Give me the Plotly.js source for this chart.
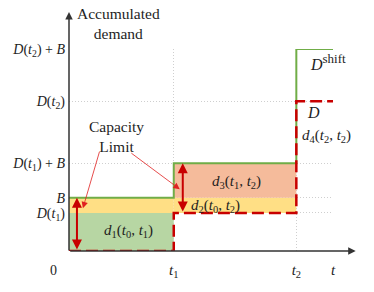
<!DOCTYPE html>
<html>
<head>
<meta charset="utf-8">
<script src="https://cdn.plot.ly/plotly-3.0.1.min.js"></script>
<style>html,body{margin:0;padding:0;background:#fff;}#chart{width:374px;height:292px;}</style>
</head>
<body>
<div id="chart"></div>
<script>
// ---- data ----
const tPoints = [0, 1, 2.17, 2.52];          // t0, t1, t2, t (end of horizon)
const demandLevels = [0, 0.76, 2.99];         // D on [t0,t1), [t1,t2), [t2,t]
const shiftLevels = [1.06, 1.75, 4.03];       // D^shift on the same intervals
const capacityB = 1.06;                        // B
const yTickVals = [0.76, 1.06, 1.75, 2.99, 4.03];
const yTickText = [
  '<i>D</i>(<i>t</i><sub>1</sub>)',
  '<i>B</i>',
  '<i>D</i>(<i>t</i><sub>1</sub>) + <i>B</i>',
  '<i>D</i>(<i>t</i><sub>2</sub>)',
  '<i>D</i>(<i>t</i><sub>2</sub>) + <i>B</i>'
];
const xTickVals = [1, 2.17, 2.52];
const xTickText = ['<i>t</i><sub>1</sub>', '<i>t</i><sub>2</sub>', '<i>t</i>'];
const regionLabels = [
  '<i>d</i><sub>1</sub>(<i>t</i><sub>0</sub>, <i>t</i><sub>1</sub>)',
  '<i>d</i><sub>2</sub>(<i>t</i><sub>0</sub>, <i>t</i><sub>2</sub>)',
  '<i>d</i><sub>3</sub>(<i>t</i><sub>1</sub>, <i>t</i><sub>2</sub>)',
  '<i>d</i><sub>4</sub>(<i>t</i><sub>2</sub>, <i>t</i><sub>2</sub>)'
];

const SERIF = 'Liberation Serif, DejaVu Serif, serif';
const RED = '#c80000';
const GREEN = '#70ad47';
const INK = '#1e1e1e';

function rect(x0, x1, y0, y1, color) {
  return {type:'scatter', mode:'none', x:[x0, x1, x1, x0, x0], y:[y0, y0, y1, y1, y0],
    fill:'toself', fillcolor:color, hoverinfo:'skip', showlegend:false};
}
const t0 = tPoints[0], t1 = tPoints[1], t2 = tPoints[2], tE = tPoints[3];

const traces = [
  rect(t0, t1, demandLevels[0], demandLevels[1], '#b7d6a3'),
  rect(t0, t1, demandLevels[1], capacityB, '#ffdf85'),
  rect(t1, t2, demandLevels[1], capacityB, '#ffdf85'),
  rect(t1, t2, capacityB, shiftLevels[1], '#f5bb9b'),
  {type:'scatter', mode:'lines', x:tPoints, y:[shiftLevels[0], shiftLevels[1], shiftLevels[2], shiftLevels[2]],
   line:{shape:'hv', color:GREEN, width:2}, showlegend:false, hoverinfo:'skip'},
  {type:'scatter', mode:'lines', x:tPoints, y:[demandLevels[0], demandLevels[1], demandLevels[2], demandLevels[2]],
   line:{shape:'hv', color:RED, width:2.5, dash:'12px,5px'}, showlegend:false, hoverinfo:'skip', cliponaxis:false}
];

const txt = (x, y, text, size, extra) => Object.assign({x:x, y:y, xref:'x', yref:'y', text:text,
  showarrow:false, font:{family:SERIF, size:size, color:INK}}, extra || {});

const annotations = [
  // axes arrows
  {xref:'paper', yref:'y', x:1.086, y:0, axref:'pixel', ayref:'pixel', ax:-287, ay:0, text:'',
   showarrow:true, arrowhead:2, arrowsize:1, arrowwidth:1.5, arrowcolor:'#333'},
  {xref:'x', yref:'paper', x:0, y:1.183, ax:0, ay:240, text:'',
   showarrow:true, arrowhead:2, arrowsize:1, arrowwidth:1.5, arrowcolor:'#333'},
  // axis title
  {xref:'paper', yref:'paper', x:0.186, y:1.125, xanchor:'center', yanchor:'middle',
   text:'Accumulated<br>demand', showarrow:false,
   font:{family:SERIF, size:15.5, color:INK}, align:'center'},
  // zero label
  {xref:'paper', yref:'paper', x:-0.057, y:-0.096, xanchor:'center', yanchor:'middle', text:'0', showarrow:false,
   font:{family:SERIF, size:14, color:INK}},
  // double-headed capacity arrows
  {xref:'x', yref:'y', axref:'x', ayref:'y', x:0.076, y:capacityB, ax:0.076, ay:demandLevels[0], text:'',
   showarrow:true, arrowside:'end+start', arrowhead:2, arrowsize:1, arrowwidth:2, arrowcolor:RED},
  {xref:'x', yref:'y', axref:'x', ayref:'y', x:1.086, y:shiftLevels[1], ax:1.086, ay:demandLevels[1], text:'',
   showarrow:true, arrowside:'end+start', arrowhead:2, arrowsize:1, arrowwidth:2, arrowcolor:RED},
  // Capacity Limit text + pointers
  txt(0.45, 2.29, 'Capacity<br>Limit', 15.5),
  {xref:'x', yref:'y', axref:'x', ayref:'y', x:0.133, y:0.854, ax:0.295, ay:2.01, text:'',
   showarrow:true, arrowhead:2, arrowsize:1.6, arrowwidth:0.8, arrowcolor:'#e02020'},
  {xref:'x', yref:'y', axref:'x', ayref:'y', x:1.057, y:1.234, ax:0.581, ay:1.974, text:'',
   showarrow:true, arrowhead:2, arrowsize:1.6, arrowwidth:0.8, arrowcolor:'#e02020'},
  // region labels
  txt(0.57, 0.39, regionLabels[0], 15),
  txt(1.40, 0.89, regionLabels[1], 15),
  txt(1.6, 1.38, regionLabels[2], 15),
  txt(2.46, 2.29, regionLabels[3], 15),
  txt(2.33, 2.77, '<i>D</i>', 16),
  txt(2.47, 3.77, '<i>D</i><sup><span style="font-size:13px">shift</span></sup>', 16)
];

const layout = {
  width:374, height:292,
  margin:{l:69, r:41, t:49, b:41, pad:0},
  paper_bgcolor:'#fff', plot_bgcolor:'#fff',
  showlegend:false,
  xaxis:{range:[0, tE], tickvals:xTickVals, ticktext:xTickText, showgrid:true, gridcolor:'#cfcfcf',
    griddash:'1px,2px', gridwidth:1, zeroline:false, showline:false, ticks:'', ticklabelstandoff:8,
    tickfont:{family:SERIF, size:15, color:INK}, fixedrange:true},
  yaxis:{range:[0, shiftLevels[2]], tickvals:yTickVals, ticktext:yTickText, showgrid:true, gridcolor:'#cfcfcf',
    griddash:'1px,2px', gridwidth:1, zeroline:false, showline:false, ticks:'', ticklabelstandoff:3,
    tickfont:{family:SERIF, size:14, color:INK}, fixedrange:true},
  annotations:annotations
};

Plotly.newPlot('chart', traces, layout, {displayModeBar:false, staticPlot:true});
</script>
</body>
</html>
